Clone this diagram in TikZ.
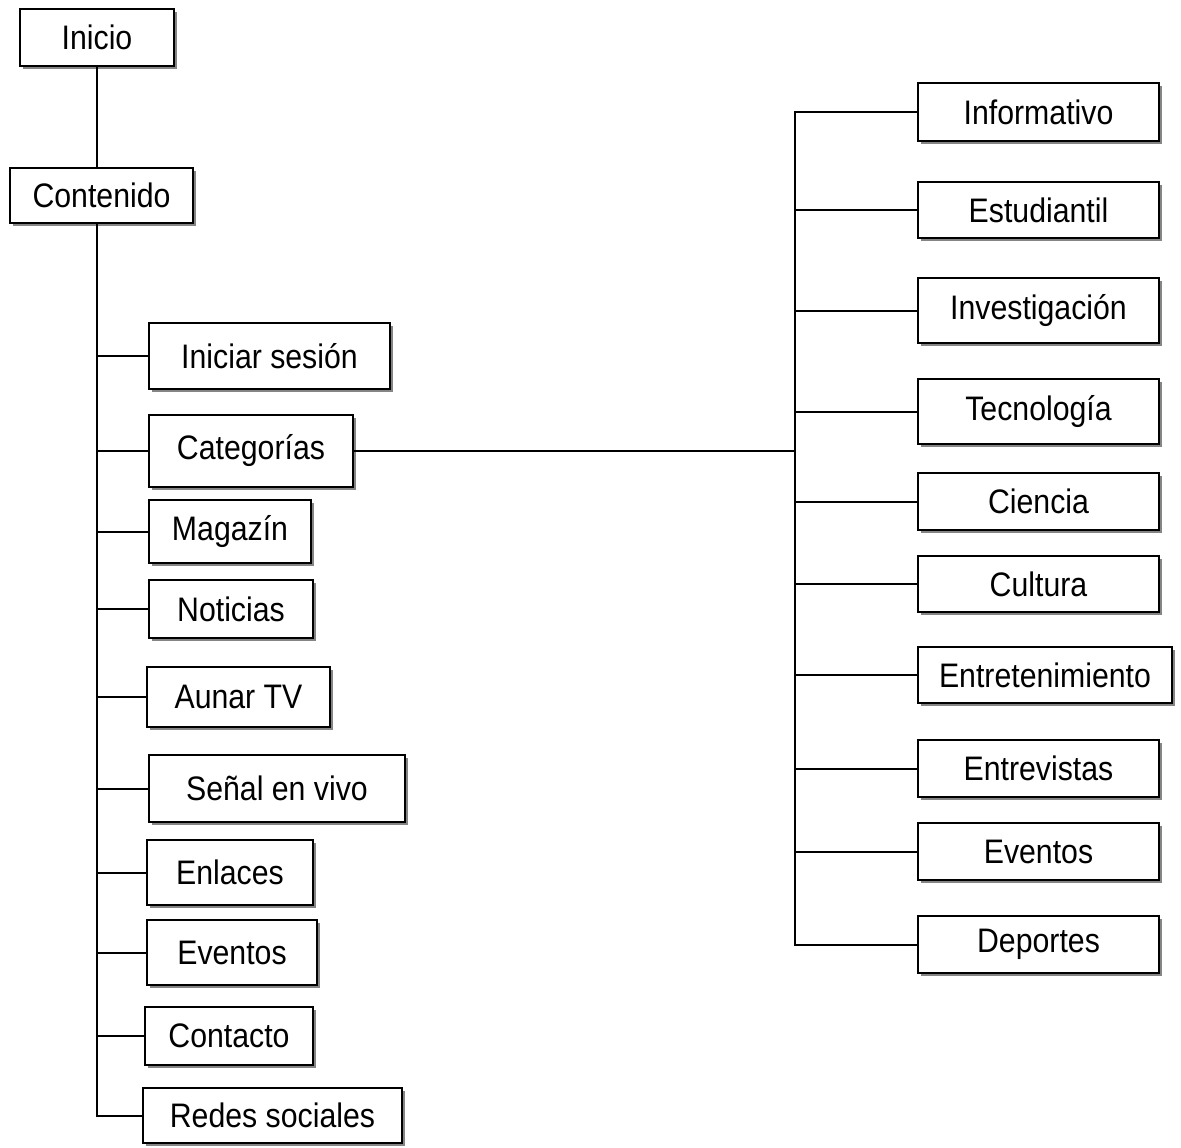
\documentclass[tikz,border=0pt]{standalone}
\usepackage{fontspec}
\setmainfont{Liberation Sans}[FakeStretch=0.89]
\usetikzlibrary{shadows}
\begin{document}
\begin{tikzpicture}[x=1pt,y=-1pt,
  box/.style={draw=black, line width=2pt, fill=white, inner sep=0pt,
    font=\fontsize{34}{40}\selectfont,
    drop shadow={shadow xshift=3pt, shadow yshift=-3pt, fill=black!60, opacity=0.8}},
  conn/.style={draw=black, line width=2pt}]
\useasboundingbox (0,0) rectangle (1181,1148);
% left column
\node[box, minimum width=154pt, minimum height=57pt] (inicio) at (97,37.5) {Inicio};
\node[box, minimum width=183pt, minimum height=55pt] (contenido) at (101.5,195.5) {Contenido};
\node[box, minimum width=241pt, minimum height=66pt] (sesion) at (269.5,356) {Iniciar sesión};
\node[box, minimum width=204pt, minimum height=72pt] (cat) at (251,451) {Categorías};
\node[box, minimum width=162pt, minimum height=63pt] (magazin) at (230,531.5) {Magazín};
\node[box, minimum width=164pt, minimum height=58pt] (noticias) at (231,609) {Noticias};
\node[box, minimum width=183pt, minimum height=60pt] (aunar) at (238.5,697) {Aunar TV};
\node[box, minimum width=256pt, minimum height=67pt] (senal) at (277,788.5) {Señal en vivo};
\node[box, minimum width=166pt, minimum height=65pt] (enlaces) at (230,872.5) {Enlaces};
\node[box, minimum width=170pt, minimum height=65pt] (eventosL) at (232,952.5) {Eventos};
\node[box, minimum width=168pt, minimum height=58pt] (contacto) at (229,1036) {Contacto};
\node[box, minimum width=259pt, minimum height=55pt] (redes) at (272.5,1115.5) {Redes sociales};
% right column
\node[box, minimum width=241pt, minimum height=58pt] (info) at (1038.5,112) {Informativo};
\node[box, minimum width=241pt, minimum height=56pt] (estu) at (1038.5,210) {Estudiantil};
\node[box, minimum width=241pt, minimum height=65pt] (inves) at (1038.5,310.5) {Investigación};
\node[box, minimum width=241pt, minimum height=65pt] (tecno) at (1038.5,411.5) {Tecnología};
\node[box, minimum width=241pt, minimum height=57pt] (ciencia) at (1038.5,501.5) {Ciencia};
\node[box, minimum width=241pt, minimum height=56pt] (cultura) at (1038.5,584) {Cultura};
\node[box, minimum width=254pt, minimum height=56pt] (entre) at (1045,675) {Entretenimiento};
\node[box, minimum width=241pt, minimum height=57pt] (entrev) at (1038.5,768.5) {Entrevistas};
\node[box, minimum width=241pt, minimum height=57pt] (eventosR) at (1038.5,851.5) {Eventos};
\node[box, minimum width=241pt, minimum height=57pt] (deportes) at (1038.5,944.5) {Deportes};
% connectors left
\coordinate (lx) at (97,0);
\coordinate (rx) at (795,0);
\draw[conn] (inicio.south) -- (inicio.south |- contenido.north);
\draw[conn] (lx |- contenido.south) |- (redes.west);
\foreach \n in {sesion,cat,magazin,noticias,aunar,senal,enlaces,eventosL,contacto}
  \draw[conn] (lx |- \n.west) -- (\n.west);
% connectors right
\draw[conn] (cat.east) -- (rx |- cat.east);
\draw[conn] (info.west) -| (rx |- deportes.west) -- (deportes.west);
\foreach \n in {estu,inves,tecno,ciencia,cultura,entre,entrev,eventosR}
  \draw[conn] (rx |- \n.west) -- (\n.west);
\end{tikzpicture}
\end{document}
